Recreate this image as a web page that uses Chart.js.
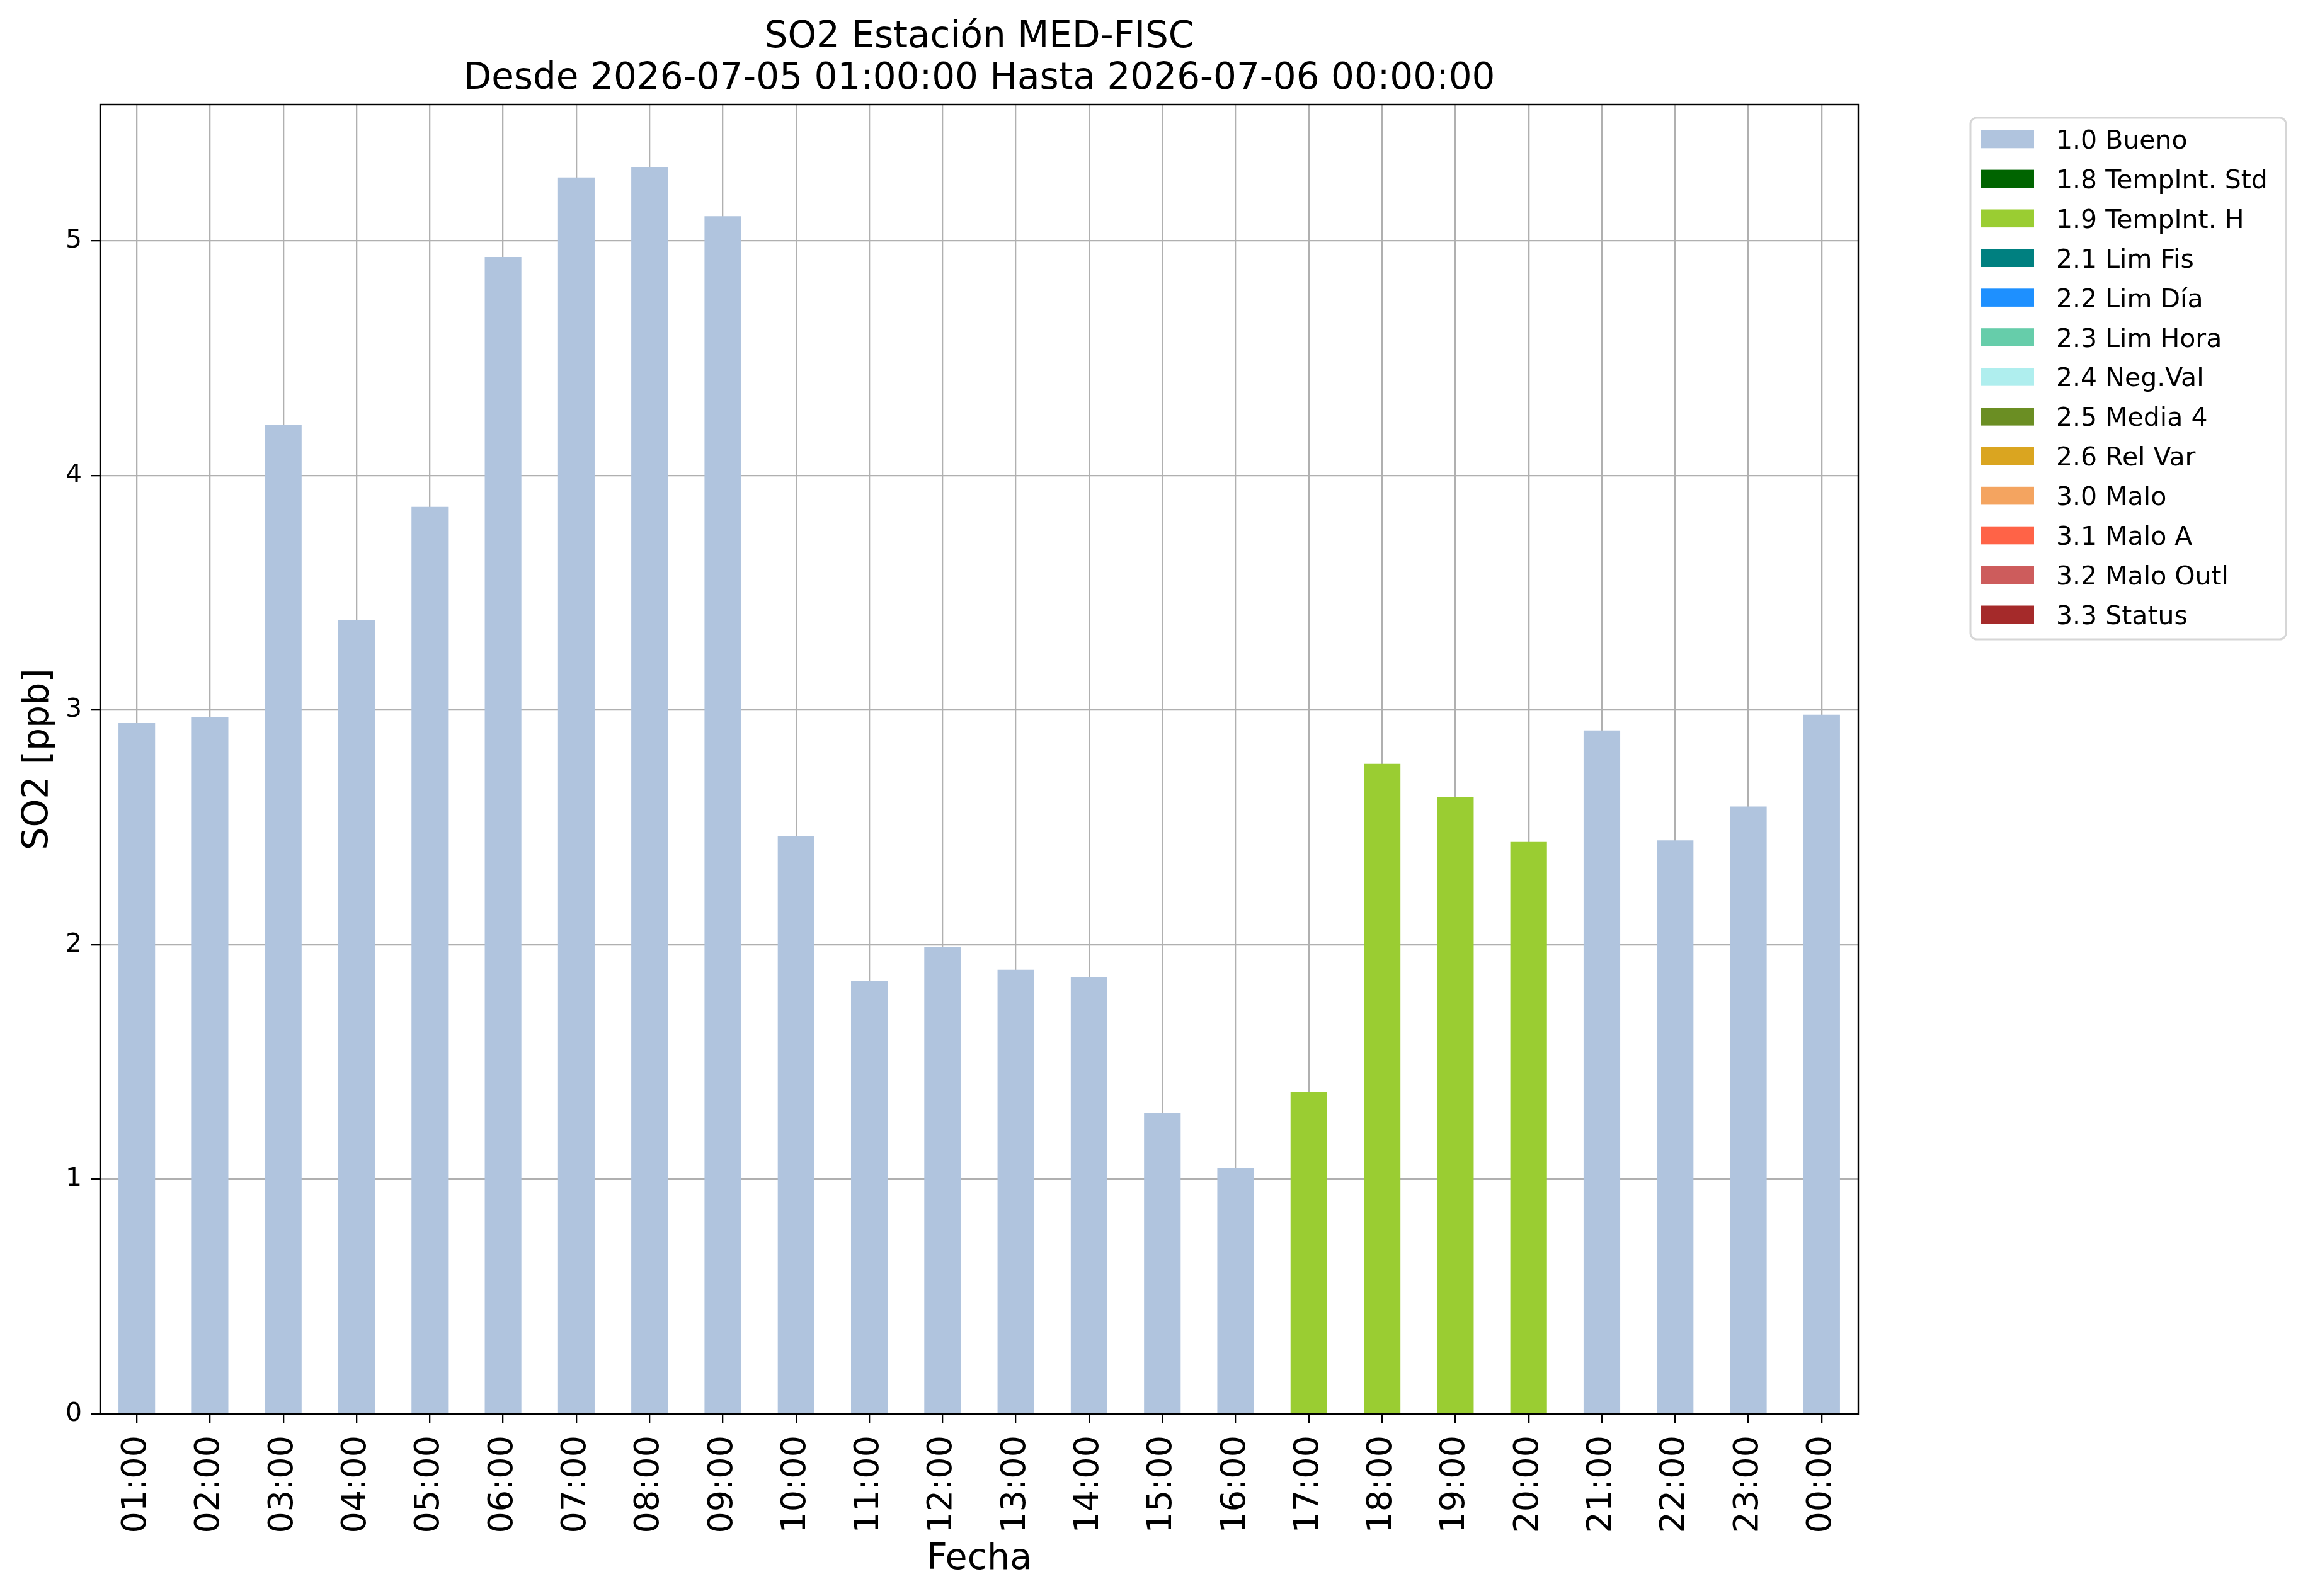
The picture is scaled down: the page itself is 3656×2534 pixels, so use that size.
<!DOCTYPE html>
<html>
<head>
<meta charset="utf-8">
<script src="https://cdn.jsdelivr.net/npm/chart.js@4.4.1/dist/chart.umd.min.js"></script>
<style>
  html, body { margin: 0; padding: 0; background: #fff; }
  #chart { display: block; }
</style>
</head>
<body>
<canvas id="chart" width="3656" height="2534"></canvas>
<script>
// Datos: SO2 horario y bandera de calidad por hora
const hours = ["01:00", "02:00", "03:00", "04:00", "05:00", "06:00", "07:00", "08:00",
  "09:00", "10:00", "11:00", "12:00", "13:00", "14:00", "15:00", "16:00",
  "17:00", "18:00", "19:00", "20:00", "21:00", "22:00", "23:00", "00:00"];
const so2 = [2.945, 2.969, 4.216, 3.385, 3.866, 4.931, 5.270, 5.315,
  5.105, 2.462, 1.845, 1.990, 1.893, 1.863, 1.283, 1.049,
  1.372, 2.771, 2.628, 2.438, 2.913, 2.445, 2.589, 2.980];
const hourFlags = ["1.0", "1.0", "1.0", "1.0", "1.0", "1.0", "1.0", "1.0",
  "1.0", "1.0", "1.0", "1.0", "1.0", "1.0", "1.0", "1.0",
  "1.9", "1.9", "1.9", "1.9", "1.0", "1.0", "1.0", "1.0"];

// Banderas de la leyenda (codigo, nombre, color)
const flagCodes = ["1.0", "1.8", "1.9", "2.1", "2.2", "2.3", "2.4", "2.5", "2.6", "3.0", "3.1", "3.2", "3.3"];
const flagNames = ["Bueno", "TempInt. Std", "TempInt. H", "Lim Fis", "Lim Día", "Lim Hora",
  "Neg.Val", "Media 4", "Rel Var", "Malo", "Malo A", "Malo Outl", "Status"];
const flagColors = ["#B0C4DE", "#006400", "#9ACD32", "#008080", "#1E90FF", "#66CDAA",
  "#AFEEEE", "#6B8E23", "#DAA520", "#F4A460", "#FF6347", "#CD5C5C", "#A52A2A"];

const titleLines = ["SO2 Estación MED-FISC", "Desde 2026-07-05 01:00:00 Hasta 2026-07-06 00:00:00"];
const xTitle = "Fecha";
const yTitle = "SO2 [ppb]";

const FONT = "'DejaVu Sans', 'Liberation Sans', sans-serif";
const GRID = "#b0b0b0";

// un dataset por bandera, con null donde la hora no lleva esa bandera
const datasets = flagCodes.map((code, i) => ({
  label: `${code} ${flagNames[i]}`,
  data: so2.map((v, h) => (hourFlags[h] === code ? v : null)),
  backgroundColor: flagColors[i],
  borderWidth: 0,
  barPercentage: 0.5,
  categoryPercentage: 1.0,
}));

// margen automatico de matplotlib: 5 % sobre el maximo
const yMax = Math.max(...so2) * 1.05;

// marco, titulos y leyenda al estilo matplotlib
const decor = {
  id: "decor",
  afterDraw(chart) {
    const { ctx, chartArea: a } = chart;
    ctx.save();

    ctx.strokeStyle = "#000";
    ctx.lineWidth = 2.4;
    ctx.strokeRect(a.left, a.top, a.right - a.left, a.bottom - a.top);

    const cx = (a.left + a.right) / 2;
    ctx.fillStyle = "#000";
    ctx.textAlign = "center";
    ctx.textBaseline = "alphabetic";
    ctx.font = `58px ${FONT}`;
    ctx.fillText(titleLines[0], cx, 75);
    ctx.fillText(titleLines[1], cx, 141);

    ctx.font = `57px ${FONT}`;
    ctx.fillText(xTitle, cx, 2491);
    ctx.save();
    ctx.translate(76, (a.top + a.bottom) / 2);
    ctx.rotate(-Math.PI / 2);
    ctx.fillText(yTitle, 0, 0);
    ctx.restore();

    // leyenda fuera del area, a la derecha
    const box = { x: 3128, y: 187, w: 501, h: 828 };
    ctx.beginPath();
    ctx.roundRect(box.x, box.y, box.w, box.h, 10);
    ctx.fillStyle = "#fff";
    ctx.fill();
    ctx.strokeStyle = "#d6d6d6";
    ctx.lineWidth = 3;
    ctx.stroke();

    ctx.font = `41px ${FONT}`;
    ctx.textAlign = "left";
    chart.data.datasets.forEach((ds, i) => {
      const rowY = 221 + i * 62.9;
      ctx.fillStyle = ds.backgroundColor;
      ctx.fillRect(3145, rowY - 14.3, 84, 28.6);
      ctx.fillStyle = "#000";
      ctx.fillText(ds.label, 3264, rowY + 15);
    });

    ctx.restore();
  },
};

new Chart(document.getElementById("chart"), {
  type: "bar",
  data: { labels: hours, datasets },
  options: {
    responsive: false,
    animation: false,
    devicePixelRatio: 1,
    layout: { padding: { top: 166, right: 706, left: 0, bottom: 0 } },
    plugins: {
      legend: { display: false },
      title: { display: false },
      tooltip: { enabled: false },
    },
    scales: {
      x: {
        stacked: true,
        offset: true,
        z: 1,
        afterFit: (s) => { s.height = 289; },
        border: { display: false },
        grid: {
          offset: false,
          color: GRID,
          lineWidth: 2.3,
          drawTicks: true,
          tickLength: 14,
          tickColor: "#000",
          tickWidth: 2.3,
        },
        ticks: {
          autoSkip: false,
          minRotation: 90,
          maxRotation: 90,
          padding: 20,
          color: "#000",
          font: { family: FONT, size: 54 },
        },
      },
      y: {
        stacked: true,
        min: 0,
        max: yMax,
        z: 1,
        afterFit: (s) => { s.width = 159; },
        border: { display: false },
        grid: {
          color: GRID,
          lineWidth: 2.3,
          drawTicks: true,
          tickLength: 14,
          tickColor: "#000",
          tickWidth: 2.3,
        },
        ticks: {
          stepSize: 1,
          includeBounds: false,
          padding: 15,
          color: "#000",
          font: { family: FONT, size: 41 },
        },
      },
    },
  },
  plugins: [decor],
});
</script>
</body>
</html>
